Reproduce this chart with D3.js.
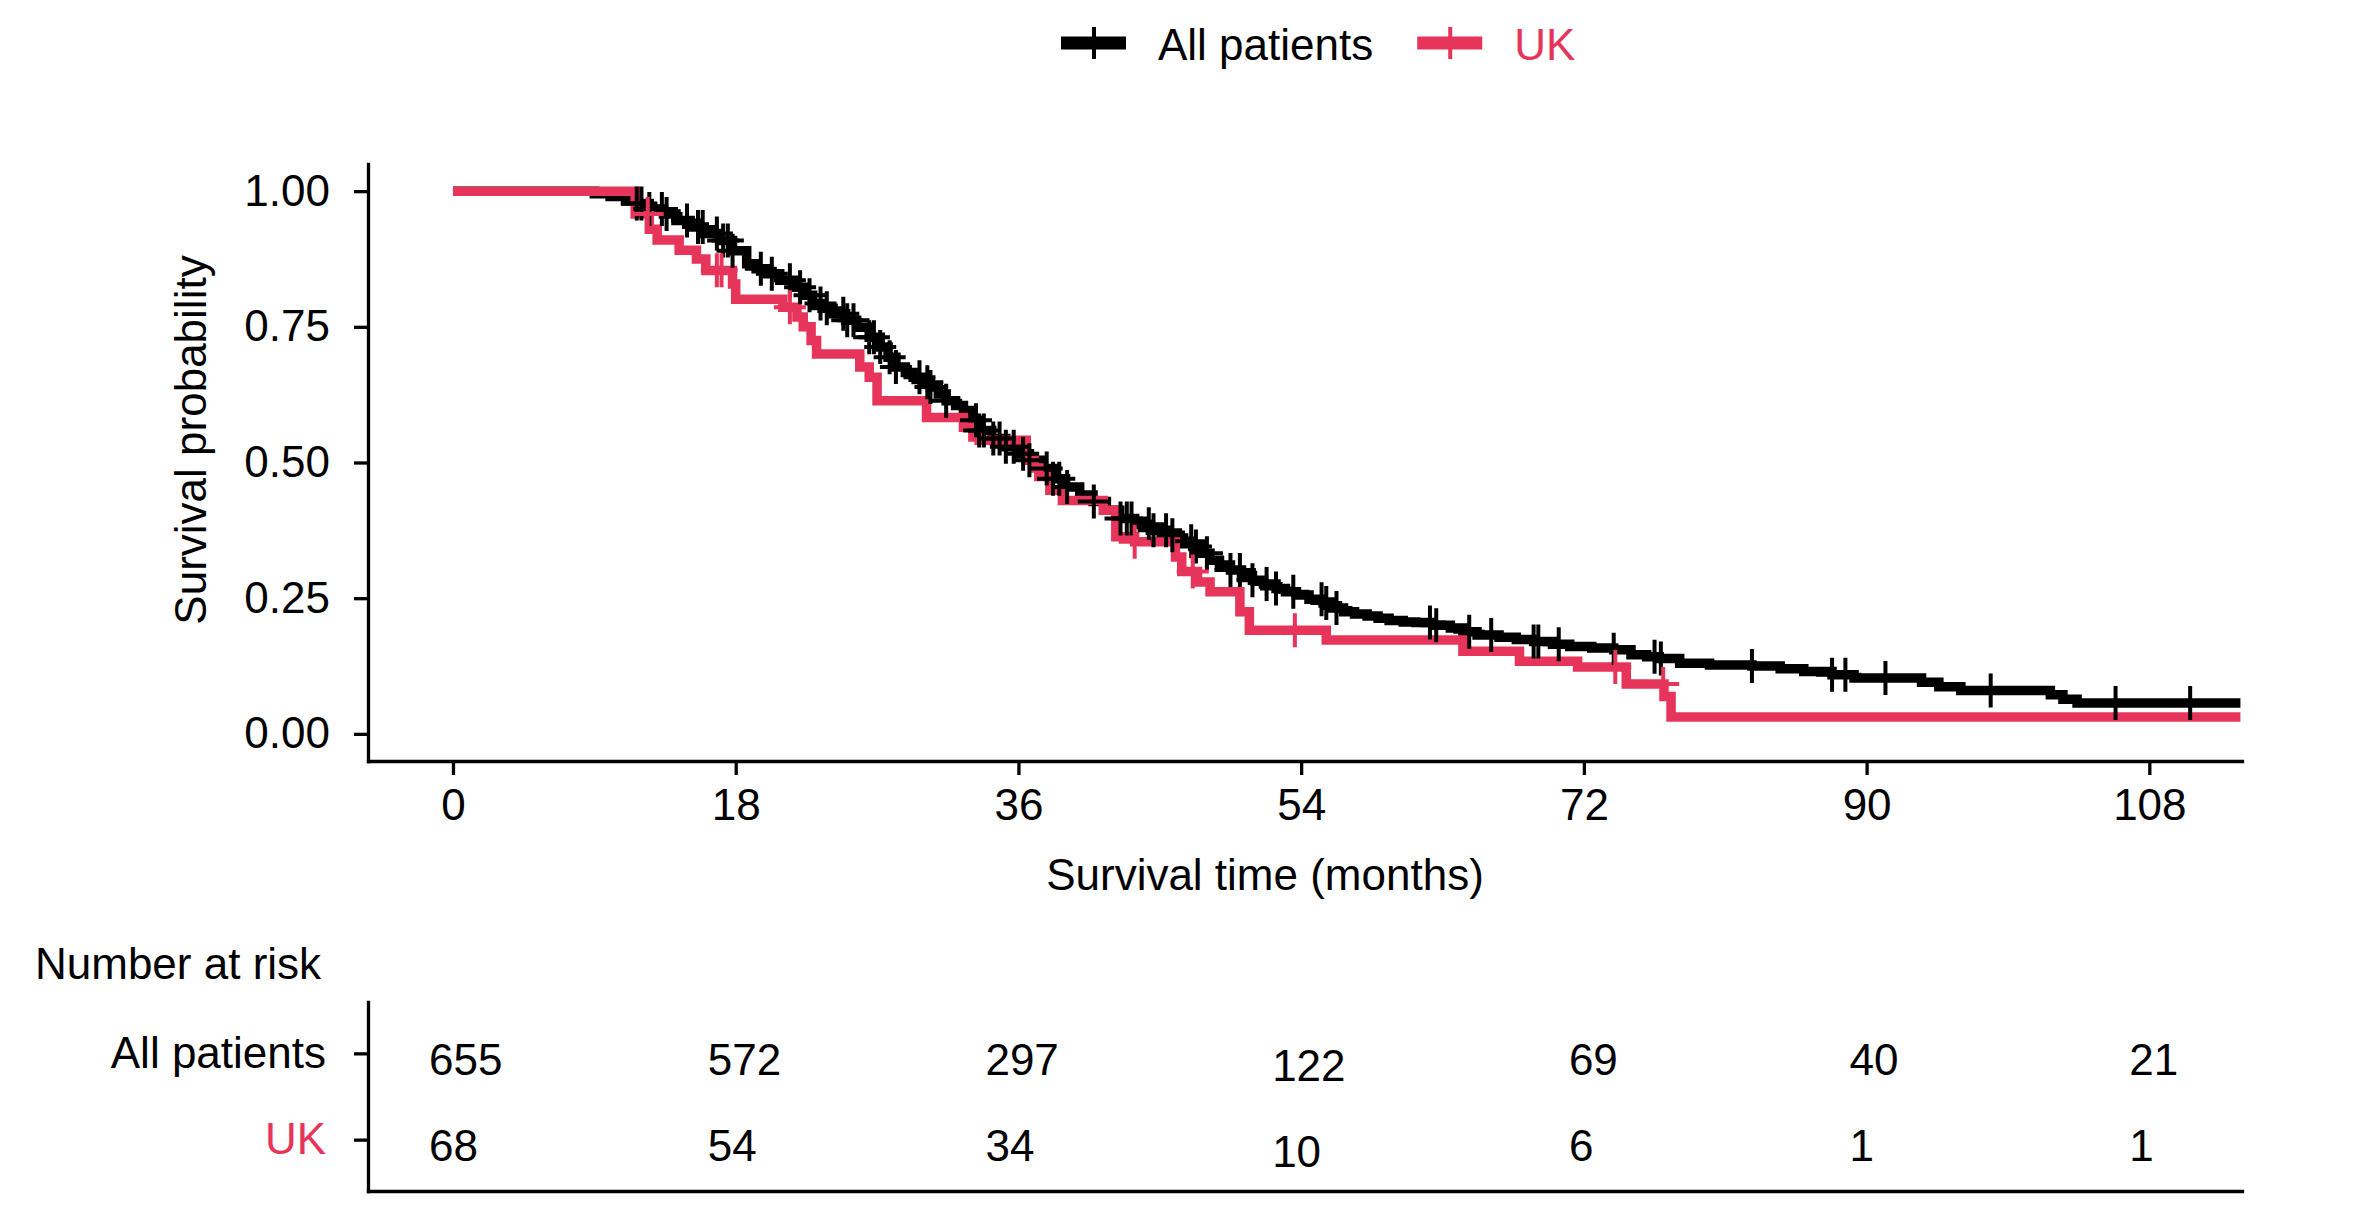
<!DOCTYPE html>
<html>
<head>
<meta charset="utf-8">
<script src="https://cdn.jsdelivr.net/npm/d3@7"></script>
<style>
  body { margin: 0; background: #fff; }
  text { font-family: 'Liberation Sans', Arial, sans-serif; font-size: 44px; }
</style>
</head>
<body>
<div id="chart"></div>
<script>
var groups = ['All patients', 'UK'];
var timeTicks = [0, 18, 36, 54, 72, 90, 108];
var survTicks = [0, 0.25, 0.5, 0.75, 1];

// [month, survival] at each step
var allCurve = [
  [0, 1], [9.0, 0.995], [10.0, 0.99], [11.0, 0.982], [11.7, 0.977], [12.5, 0.967],
  [13.4, 0.958], [14.2, 0.946], [15.1, 0.934], [16.0, 0.922], [17.0, 0.909], [17.8, 0.89],
  [18.7, 0.866], [19.3, 0.857], [20.0, 0.848], [20.8, 0.836], [21.7, 0.823], [22.3, 0.808],
  [22.9, 0.793], [23.5, 0.784], [24.2, 0.774], [25.0, 0.762], [25.7, 0.749], [26.5, 0.731],
  [27.2, 0.713], [27.7, 0.694], [28.2, 0.676], [28.8, 0.666], [29.3, 0.657], [29.9, 0.648],
  [30.4, 0.639], [30.9, 0.626], [31.4, 0.614], [32.0, 0.605], [32.5, 0.596], [33.0, 0.578],
  [33.5, 0.559], [34.3, 0.544], [35.2, 0.529], [36.0, 0.516], [36.7, 0.504], [37.5, 0.489],
  [38.2, 0.47], [39.0, 0.455], [39.9, 0.44], [40.75, 0.428], [41.6, 0.412], [42.45, 0.397],
  [43.4, 0.386], [44.4, 0.375], [45.6, 0.366], [46.3, 0.355], [47.1, 0.345], [47.6, 0.333],
  [48.2, 0.32], [48.8, 0.311], [49.5, 0.302], [50.2, 0.292], [50.9, 0.283], [51.6, 0.276],
  [52.4, 0.268], [53.0, 0.262], [53.7, 0.256], [54.5, 0.248], [55.4, 0.241], [56.0, 0.232],
  [56.7, 0.225], [57.4, 0.221], [58.2, 0.217], [58.9, 0.213], [59.6, 0.209], [60.5, 0.206],
  [61.3, 0.205], [62.4, 0.2], [63.5, 0.195], [64.3, 0.188], [65.2, 0.182], [66.6, 0.178],
  [67.7, 0.174], [68.8, 0.17], [70.0, 0.165], [71.1, 0.161], [72.5, 0.158], [73.9, 0.155],
  [75.0, 0.146], [76.0, 0.142], [76.8, 0.139], [78.1, 0.13], [80.0, 0.127], [82.7, 0.125],
  [84.5, 0.12], [86.0, 0.115], [87.8, 0.109], [89.2, 0.103], [93.5, 0.095], [94.6, 0.087],
  [96.0, 0.08], [101.7, 0.072], [102.5, 0.064], [103.4, 0.057], [113.8, 0.057]
];
var ukCurve = [
  [0, 1], [11.6, 0.958], [12.5, 0.93], [13.0, 0.91], [14.4, 0.891], [15.5, 0.875],
  [16.1, 0.854], [17.8, 0.829], [18.0, 0.801], [21.0, 0.786], [21.9, 0.768], [22.3, 0.75],
  [22.8, 0.725], [23.15, 0.7], [25.9, 0.676], [26.5, 0.657], [27.0, 0.614], [30.15, 0.583],
  [32.5, 0.565], [33.1, 0.547], [33.5, 0.541], [36.5, 0.504], [37.0, 0.49], [37.3, 0.474],
  [38.0, 0.449], [38.8, 0.43], [41.4, 0.412], [42.2, 0.363], [43.4, 0.354], [46.0, 0.326],
  [46.4, 0.299], [47.4, 0.28], [48.2, 0.262], [50.1, 0.225], [50.7, 0.191], [55.6, 0.173],
  [64.3, 0.152], [67.9, 0.134], [71.6, 0.123], [74.7, 0.092], [77.1, 0.069], [77.55, 0.031],
  [113.8, 0.031]
];

// censoring times (months)
var allCensor = [
  11.7, 12.0, 12.5, 13.3, 13.6, 14.9, 15.6, 15.9, 16.8, 17.2, 17.5, 17.8, 19.6, 20.3,
  21.45, 22.1, 22.7, 23.4, 23.8, 24.85, 25.1, 25.5, 26.5, 26.8, 27.2, 27.8, 28.2, 29.7,
  30.2, 30.4, 31.4, 33.3, 33.5, 33.8, 34.4, 34.8, 35.2, 35.7, 36.3, 36.7, 37.8, 38.2,
  38.6, 39.1, 40.8, 42.5, 42.9, 43.2, 44.3, 44.6, 45.4, 45.8, 47.0, 47.3, 48.0, 49.5,
  50.1, 50.9, 51.8, 52.4, 53.5, 55.3, 55.6, 56.25, 62.2, 62.6, 64.7, 66.1, 68.8, 69.1,
  70.4, 73.9, 76.5, 76.9, 82.7, 87.8, 88.65, 91.2, 97.9, 105.85, 110.6
];
var ukCensor = [12.4, 16.8, 17.1, 21.45, 43.4, 47.1, 53.6, 74.0, 77.05];

var riskAll = [655, 572, 297, 122, 69, 40, 21];
var riskUK = [68, 54, 34, 10, 6, 1, 1];

var colors = { 'All patients': '#000000', 'UK': '#E7345A' };

var svg = d3.select('#chart')
  .append('svg')
    .attr('width', 2378)
    .attr('height', 1222);

var x = d3.scaleLinear().domain([-5.41, 113.9]).range([368, 2242]);
var y = d3.scaleLinear().domain([-0.05, 1.05]).range([761, 164]);

// helper: survival value of a curve at time t
function survAt(curve, t) {
  var s = curve[0][1];
  curve.forEach(function(d) { if (d[0] <= t) s = d[1]; });
  return s;
}

function styleAxis(g) {
  g.select('.domain').attr('stroke', '#000').attr('stroke-width', 3.3).attr('stroke-linecap', 'square');
  g.selectAll('.tick line').attr('stroke', '#000').attr('stroke-width', 3.3);
  g.selectAll('.tick text').attr('font-size', null).attr('font-family', null).attr('fill', '#000');
}

// main plot axes
svg.append('g')
  .attr('transform', 'translate(0,761)')
  .call(d3.axisBottom(x).tickValues(timeTicks).tickSize(14).tickSizeOuter(0).tickPadding(14))
  .call(styleAxis);

svg.append('g')
  .attr('transform', 'translate(368,0)')
  .call(d3.axisLeft(y).tickValues(survTicks).tickFormat(d3.format('.2f'))
    .tickSize(14).tickSizeOuter(0).tickPadding(24))
  .call(styleAxis);

svg.append('text')
  .attr('x', 1265).attr('y', 890)
  .attr('text-anchor', 'middle')
  .text('Survival time (months)');

svg.append('text')
  .attr('transform', 'translate(206,440) rotate(-90)')
  .attr('text-anchor', 'middle')
  .text('Survival probability');

// curves
var line = d3.line()
  .x(function(d) { return x(d[0]); })
  .y(function(d) { return y(d[1]); })
  .curve(d3.curveStepAfter);

var series = [
  { name: 'All patients', curve: allCurve, censor: allCensor },
  { name: 'UK', curve: ukCurve, censor: ukCensor }
];

svg.append('g')
  .selectAll('path')
  .data(series)
    .enter()
      .append('path')
        .attr('d', function(d) { return line(d.curve); })
        .attr('fill', 'none')
        .attr('stroke', function(d) { return colors[d.name]; })
        .attr('stroke-width', 9.5);

var plus = 'M-16,0H16M0,-17V17';

series.forEach(function(s) {
  svg.append('g')
    .selectAll('path')
    .data(s.censor)
      .enter()
        .append('path')
          .attr('d', plus)
          .attr('transform', function(t) {
            return 'translate(' + x(t) + ',' + y(survAt(s.curve, t)) + ')';
          })
          .attr('fill', 'none')
          .attr('stroke', colors[s.name])
          .attr('stroke-width', 4);
});

// legend
var legend = svg.append('g').attr('class', 'legend');
var lx = 1061;
groups.forEach(function(name) {
  var g = legend.append('g').attr('transform', 'translate(' + lx + ',43)');
  g.append('line')
    .attr('x1', 0).attr('x2', 65)
    .attr('stroke', colors[name]).attr('stroke-width', 13);
  g.append('line')
    .attr('x1', 33).attr('x2', 33).attr('y1', -16).attr('y2', 16)
    .attr('stroke', colors[name]).attr('stroke-width', 4);
  var label = g.append('text')
    .attr('x', 97).attr('y', 17)
    .attr('fill', colors[name])
    .text(name);
  lx += 97 + label.node().getComputedTextLength() + 44;
});

// number at risk table
svg.append('text')
  .attr('x', 35).attr('y', 979)
  .text('Number at risk');

var row = d3.scalePoint().domain(groups).range([1002, 1191]).padding(0.595);

svg.append('g')
  .attr('transform', 'translate(368,0)')
  .call(d3.axisLeft(row).tickSize(14).tickSizeOuter(0).tickPadding(28))
  .call(styleAxis)
  .selectAll('.tick text')
    .attr('fill', function(d) { return colors[d]; });

svg.append('g')
  .attr('transform', 'translate(0,1191)')
  .call(d3.axisBottom(x).tickValues([]).tickSizeOuter(0))
  .call(styleAxis);

// the numbers sit a little left of each time point in the original
var riskNudge = [-24, -28, -33, -29, -15, -17, -20];
var riskDrop = [0, 0, 0, 5.7, 0, 0, 0];

[{ name: 'All patients', values: riskAll }, { name: 'UK', values: riskUK }].forEach(function(r) {
  svg.append('g')
    .selectAll('text')
    .data(r.values)
      .enter()
        .append('text')
          .attr('x', function(d, i) { return x(timeTicks[i]) + riskNudge[i]; })
          .attr('y', function(d, i) { return row(r.name) + 21.5 + riskDrop[i]; })
          .text(function(d) { return d; });
});
</script>
</body>
</html>
